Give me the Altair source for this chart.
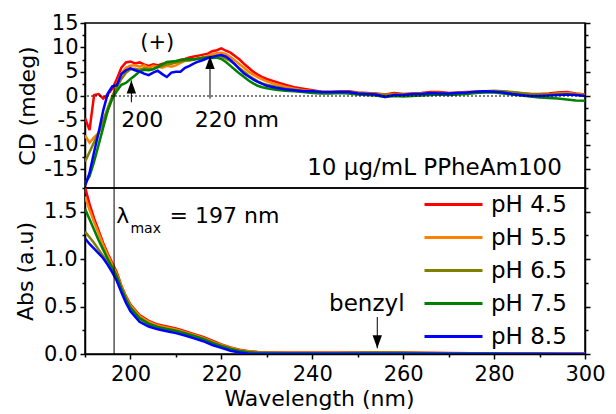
import altair as alt
import pandas as pd

FONT = "DejaVu Sans"

series = ["pH 4.5", "pH 5.5", "pH 6.5", "pH 7.5", "pH 8.5"]
colors = ["#FF0000", "#FF8000", "#808000", "#008000", "#0000FF"]

# ---------------- CD spectra (mdeg) ----------------
cd_wavelength = list(range(190, 231)) + list(range(232, 301, 2))

cd_ph45 = [-4.5, -7.0, 0.2, 0.4, -0.5, 0.3, 1.5, 3.5, 5.8, 6.9, 7.1, 6.7, 6.9, 6.5, 6.2, 6.5, 6.3, 6.6, 6.5, 6.8,
           7.0, 7.4, 7.6, 7.9, 8.1, 8.3, 8.5, 8.7, 9.2, 9.4, 9.8, 9.3, 8.9, 8.2, 7.5, 6.6, 5.8, 5.0, 4.4, 3.9, 3.5,
           2.9, 2.3, 1.8, 1.5, 1.2, 0.9, 0.8, 0.9, 1.0, 0.7, 0.6, 0.5, 0.3, 0.6, 0.4, 0.5, 0.6, 0.8, 0.8, 0.6,
           0.7, 0.8, 0.9, 1.0, 1.0, 0.9, 0.7, 0.5, 0.4, 0.4, 0.5, 0.7, 0.8, 0.5, 0.3]
cd_ph55 = [-8.1, -9.6, -8.5, -7.6, -5.5, -3.0, -0.5, 2.5, 4.6, 5.8, 6.2, 6.3, 6.0, 6.3, 5.8, 6.2, 6.0, 5.8, 6.2, 6.0,
           6.3, 6.8, 7.2, 7.4, 7.6, 7.7, 7.9, 8.2, 8.6, 8.8, 8.9, 8.6, 8.0, 7.3, 6.5, 5.8, 5.0, 4.4, 3.9, 3.4, 3.0,
           2.4, 1.9, 1.5, 1.2, 1.0, 0.8, 0.8, 0.9, 0.8, 0.6, 0.5, 0.4, 0.2, 0.4, 0.3, 0.4, 0.5, 0.6, 0.6, 0.5,
           0.6, 0.7, 0.9, 1.0, 1.0, 0.9, 0.7, 0.5, 0.3, 0.2, 0.3, 0.5, 0.6, 0.4, 0.2]
cd_ph65 = [-13.5, -11.5, -9.5, -7.5, -5.0, -2.5, 0.0, 1.8, 3.5, 4.8, 5.5, 5.6, 5.4, 5.7, 5.5, 5.6, 5.9, 6.2, 6.5, 6.6,
           6.9, 7.1, 7.3, 7.3, 7.5, 7.7, 7.9, 8.0, 8.1, 8.2, 8.1, 7.7, 7.2, 6.5, 5.7, 5.0, 4.2, 3.6, 3.0, 2.6, 2.3,
           1.9, 1.5, 1.3, 1.1, 1.0, 0.8, 0.7, 0.8, 0.8, 0.6, 0.5, 0.4, 0.2, 0.3, 0.3, 0.4, 0.5, 0.5, 0.6, 0.5,
           0.6, 0.7, 0.8, 1.0, 1.1, 1.0, 0.8, 0.6, 0.4, 0.3, 0.3, 0.4, 0.4, 0.3, 0.1]
cd_ph75 = [-18.0, -16.5, -13.5, -10.0, -6.5, -3.0, -0.5, 1.0, 2.3, 2.7, 3.5, 4.2, 5.0, 5.4, 5.3, 5.5, 6.0, 6.5, 7.0, 7.1,
           7.2, 7.4, 7.5, 7.6, 7.5, 7.7, 7.8, 7.9, 7.8, 7.9, 7.6, 7.0, 6.2, 5.4, 4.6, 3.9, 3.2, 2.6, 2.1, 1.8, 1.6,
           1.3, 1.1, 1.0, 0.8, 0.6, 0.5, 0.5, 0.6, 0.5, 0.3, 0.2, 0.1, -0.2, 0.0, -0.1, 0.0, 0.1, 0.2, 0.3, 0.2,
           0.3, 0.4, 0.6, 0.7, 0.7, 0.5, 0.3, 0.1, -0.1, -0.3, -0.4, -0.5, -0.7, -0.9, -1.0]
cd_ph85 = [-18.5, -15.8, -11.5, -7.5, -3.0, 0.5, 2.0, 2.2, 4.5, 5.3, 5.7, 5.3, 5.0, 4.6, 4.3, 4.8, 5.2, 4.5, 3.9, 4.8,
           5.0, 5.0, 5.8, 6.2, 6.7, 7.1, 7.4, 7.8, 8.0, 8.3, 8.4, 8.1, 7.4, 6.5, 5.5, 4.6, 4.0, 3.4, 2.9, 2.5, 2.1,
           1.7, 1.4, 1.2, 1.0, 1.0, 0.8, 0.8, 0.9, 0.8, 0.5, 0.4, 0.3, -0.2, 0.2, 0.2, 0.4, 0.4, 0.6, 0.5, 0.5,
           0.6, 0.7, 0.9, 1.0, 0.9, 0.7, 0.4, 0.2, 0.0, 0.0, 0.1, 0.2, 0.3, 0.2, 0.0]

# ---------------- Absorbance spectra (a.u.) ----------------
abs_wavelength = list(range(190, 201)) + list(range(202, 231, 2)) + list(range(235, 301, 5))

abs_ph45 = [1.76, 1.58, 1.43, 1.30, 1.17, 1.06, 0.96, 0.86, 0.72, 0.61, 0.52,
            0.41, 0.35, 0.31, 0.29, 0.27, 0.24, 0.21, 0.18, 0.14, 0.10, 0.07, 0.045, 0.03, 0.022, 0.018,
            0.015, 0.015, 0.015, 0.016, 0.018, 0.016, 0.012, 0.010, 0.008, 0.006, 0.004, 0.003, 0.002, 0.002]
abs_ph55 = [1.66, 1.52, 1.39, 1.27, 1.15, 1.04, 0.94, 0.84, 0.71, 0.60, 0.51,
            0.40, 0.34, 0.30, 0.28, 0.26, 0.23, 0.20, 0.17, 0.13, 0.095, 0.065, 0.04, 0.026, 0.019, 0.015,
            0.013, 0.013, 0.013, 0.014, 0.015, 0.013, 0.010, 0.008, 0.006, 0.005, 0.004, 0.003, 0.002, 0.002]
abs_ph65 = [1.29, 1.23, 1.17, 1.10, 1.03, 0.96, 0.89, 0.80, 0.68, 0.57, 0.48,
            0.37, 0.31, 0.28, 0.26, 0.24, 0.215, 0.185, 0.155, 0.115, 0.08, 0.05, 0.028, 0.015, 0.010, 0.008,
            0.007, 0.007, 0.008, 0.009, 0.010, 0.009, 0.007, 0.006, 0.005, 0.004, 0.003, 0.002, 0.001, 0.001]
abs_ph75 = [1.53, 1.42, 1.31, 1.20, 1.10, 1.00, 0.91, 0.82, 0.69, 0.58, 0.49,
            0.38, 0.32, 0.285, 0.265, 0.245, 0.22, 0.19, 0.16, 0.12, 0.085, 0.055, 0.032, 0.018, 0.012, 0.010,
            0.009, 0.009, 0.009, 0.010, 0.011, 0.010, 0.008, 0.006, 0.005, 0.004, 0.003, 0.002, 0.001, 0.001]
abs_ph85 = [1.22, 1.16, 1.11, 1.06, 1.01, 0.94, 0.86, 0.77, 0.65, 0.54, 0.45,
            0.34, 0.29, 0.26, 0.24, 0.22, 0.195, 0.165, 0.135, 0.095, 0.065, 0.035, 0.015, 0.003, 0.0, 0.0,
            0.0, 0.0, 0.0, 0.0, 0.0, 0.0, 0.0, 0.0, 0.0, 0.0, 0.0, 0.0, 0.0, 0.0]

# annotation values
lambda_max_line = 196.4
cd_line_top = 2.3

x_ticks = list(range(190, 301, 10))
cd_ticks = [-15, -12.5, -10, -7.5, -5, -2.5, 0, 2.5, 5, 7.5, 10, 12.5, 15]
abs_ticks = [0, 0.25, 0.5, 0.75, 1.0, 1.25, 1.5, 1.75]
cd_domain = [-18.9, 15]
abs_domain = [0, 1.75]


def to_long(wl, arrays):
    rows = []
    for name, vals in zip(series, arrays):
        for w, v in zip(wl, vals):
            rows.append({"wl": w, "val": v, "series": name})
    return pd.DataFrame(rows)


cd_df = to_long(cd_wavelength, [cd_ph45, cd_ph55, cd_ph65, cd_ph75, cd_ph85])
abs_df = to_long(abs_wavelength, [abs_ph45, abs_ph55, abs_ph65, abs_ph75, abs_ph85])

W = 500
H_TOP = 165
H_BOT = 166

xscale = alt.Scale(domain=[190, 300], nice=False)
cd_scale = alt.Scale(domain=cd_domain, nice=False, zero=False)
abs_scale = alt.Scale(domain=abs_domain, nice=False, zero=False)
color_scale = alt.Scale(domain=series, range=colors)

minor_cd = {"condition": {"test": "datum.value % 5 === 0", "value": 5}, "value": 3}
minor_abs = {"condition": {"test": "datum.value % 0.5 === 0", "value": 5}, "value": 3}
minor_x = {"condition": {"test": "datum.value % 20 === 0", "value": 5}, "value": 3}

cd_axis = alt.Axis(values=cd_ticks, title="CD (mdeg)", tickSize=minor_cd, labelOverlap=False,
                   labelFlush=False,
                   labelExpr="datum.value % 5 === 0 ? toString(datum.value) : ''",
                   labelPadding=2, titlePadding=4)
cd_axis_right = alt.Axis(values=cd_ticks, title=None, labels=False, orient="right", tickSize=minor_cd)
abs_axis = alt.Axis(values=abs_ticks, title="Abs (a.u)", tickSize=minor_abs, labelOverlap=False,
                    labelFlush=False,
                    labelExpr="datum.value % 0.5 === 0 ? format(datum.value, '.1f') : ''",
                    labelPadding=3, titlePadding=6)
abs_axis_right = alt.Axis(values=abs_ticks, title=None, labels=False, orient="right", tickSize=minor_abs)
wl_axis = alt.Axis(values=x_ticks, title="Wavelength (nm)", tickSize=minor_x, labelOverlap=False,
                   labelFlush=False,
                   labelExpr="datum.value % 20 === 0 ? toString(datum.value) : ''",
                   labelPadding=4, titlePadding=4, titleX=234)


def Xt(field):
    return alt.X(field, type="quantitative", scale=xscale, axis=None)


def Xb(field):
    return alt.X(field, type="quantitative", scale=xscale, axis=wl_axis)


def Ycd(field, axis=None):
    return alt.Y(field, type="quantitative", scale=cd_scale, axis=axis)


def Yabs(field, axis=None):
    return alt.Y(field, type="quantitative", scale=abs_scale, axis=axis)


# ---------------- top panel ----------------
top_lines = alt.Chart(cd_df).mark_line(strokeWidth=2.5, clip=True).encode(
    x=Xt("wl"), y=Ycd("val", cd_axis),
    color=alt.Color("series:N", scale=color_scale, legend=None),
)

zero_df = pd.DataFrame({"y": [0]})
zero_rule = alt.Chart(zero_df).mark_rule(color="black", strokeWidth=1, strokeDash=[2, 2]).encode(
    y=Ycd("y", cd_axis_right))

vline_top_df = pd.DataFrame({"x": [lambda_max_line], "y": [cd_domain[0]], "y2": [cd_line_top]})
vline_top = alt.Chart(vline_top_df).mark_rule(color="black", strokeWidth=1).encode(
    x=Xt("x"), y=Ycd("y"), y2="y2:Q")

arrow_top_df = pd.DataFrame({"x": [200.2, 217.5], "y": [-1.3, -0.55], "y2": [3.2, 8.2]})
arrow_top_shaft = alt.Chart(arrow_top_df).mark_rule(color="black", strokeWidth=1).encode(
    x=Xt("x"), y=Ycd("y"), y2="y2:Q")
arrow_top_head = alt.Chart(arrow_top_df).mark_point(
    shape="M0,0 L-0.36,1 L0.36,1 Z", size=676, filled=True, color="black", opacity=1).encode(
    x=Xt("x"), y=Ycd("y2"))

plus_df = pd.DataFrame({"x": [205.9], "y": [10.9], "t": ["(+)"]})
plus_text = alt.Chart(plus_df).mark_text(font=FONT, fontSize=21, color="black", baseline="middle").encode(
    x=Xt("x"), y=Ycd("y"), text="t:N")

nm_df = pd.DataFrame({"x": [202.6, 223.4], "y": [-4.9, -4.9], "t": ["200", "220 nm"]})
nm_text = alt.Chart(nm_df).mark_text(font=FONT, fontSize=22, color="black", baseline="middle").encode(
    x=Xt("x"), y=Ycd("y"), text="t:N")

sample_df = pd.DataFrame({"x": [294.9], "y": [-16.2], "t": ["10 µg/mL PPheAm100"]})
sample_text = alt.Chart(sample_df).mark_text(font=FONT, fontSize=23, color="black", align="right",
                                             baseline="alphabetic").encode(
    x=Xt("x"), y=Ycd("y"), text="t:N")

top = alt.layer(top_lines, zero_rule, vline_top, arrow_top_shaft, arrow_top_head,
                plus_text, nm_text, sample_text).resolve_axis(y="independent").properties(
    width=W, height=H_TOP)

# ---------------- bottom panel ----------------
bot_lines = alt.Chart(abs_df).mark_line(strokeWidth=2.5, clip=True).encode(
    x=Xb("wl"), y=Yabs("val", abs_axis),
    color=alt.Color("series:N", scale=color_scale,
                    legend=alt.Legend(orient="none", legendX=357, legendY=5, title=None,
                                      symbolType="M-2.9,0 L2.9,0", symbolSize=400, symbolStrokeWidth=3,
                                      labelFont=FONT, labelFontSize=23, labelColor="black",
                                      rowPadding=9, labelOffset=26, padding=0)),
)

vline_bot_df = pd.DataFrame({"x": [lambda_max_line]})
vline_bot = alt.Chart(vline_bot_df).mark_rule(color="black", strokeWidth=1).encode(x=Xb("x"))

arrow_bot_df = pd.DataFrame({"x": [254.3], "y": [0.39], "y2": [0.06]})
arrow_bot_shaft = alt.Chart(arrow_bot_df).mark_rule(color="black", strokeWidth=1).encode(
    x=Xb("x"), y=Yabs("y", abs_axis_right), y2="y2:Q")
arrow_bot_head = alt.Chart(arrow_bot_df).mark_point(
    shape="M0,0 L-0.36,-1 L0.36,-1 Z", size=676, filled=True, color="black", opacity=1).encode(
    x=Xb("x"), y=Yabs("y2"))

benzyl_df = pd.DataFrame({"x": [252.0], "y": [0.45], "t": ["benzyl"]})
benzyl_text = alt.Chart(benzyl_df).mark_text(font=FONT, fontSize=23, color="black",
                                             baseline="alphabetic").encode(
    x=Xb("x"), y=Yabs("y"), text="t:N")

lam_df = pd.DataFrame({"x": [196.9], "y": [1.38], "t": ["λ"]})
lam_text = alt.Chart(lam_df).mark_text(font=FONT, fontSize=22, color="black", align="left",
                                       baseline="alphabetic").encode(
    x=Xb("x"), y=Yabs("y"), text="t:N")
sub_df = pd.DataFrame({"x": [200.0], "y": [1.28], "t": ["max"]})
sub_text = alt.Chart(sub_df).mark_text(font=FONT, fontSize=14, color="black", align="left",
                                       baseline="alphabetic").encode(
    x=Xb("x"), y=Yabs("y"), text="t:N")
eq_df = pd.DataFrame({"x": [208.6], "y": [1.38], "t": ["= 197 nm"]})
eq_text = alt.Chart(eq_df).mark_text(font=FONT, fontSize=22, color="black", align="left",
                                     baseline="alphabetic").encode(
    x=Xb("x"), y=Yabs("y"), text="t:N")

bottom = alt.layer(bot_lines, vline_bot, arrow_bot_shaft, arrow_bot_head, benzyl_text,
                   lam_text, sub_text, eq_text).resolve_axis(y="independent").properties(
    width=W, height=H_BOT)

chart = alt.vconcat(top, bottom, spacing=0, bounds="flush").resolve_scale(color="independent").properties(
    padding={"left": 5, "top": 3, "right": 0, "bottom": 0}
).configure_view(stroke="black", strokeWidth=1.5).configure_axis(
    domainColor="black", domainWidth=1.5, tickColor="black", tickWidth=1.5,
    labelColor="black", labelFont=FONT, labelFontSize=21,
    titleFont=FONT, titleFontSize=22, titleFontWeight="normal", titleColor="black", grid=False
).configure_concat(spacing=0)

chart.save("out.html", embed_options={"renderer": "svg", "actions": False})
